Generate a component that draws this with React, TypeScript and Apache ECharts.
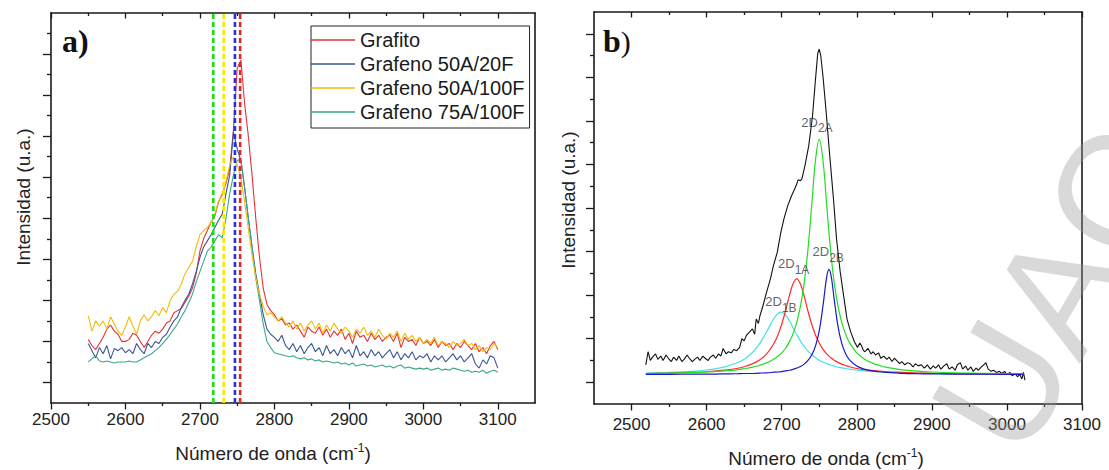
import React, { useEffect, useRef } from "react";
import * as echarts from "echarts";

// ---------------- Panel a) data ----------------
const WAVENUMBER_A = [
  2550, 2555, 2560, 2565, 2570, 2575, 2580, 2585, 2590, 2595,
  2600, 2605, 2610, 2615, 2620, 2625, 2630, 2635, 2640, 2645,
  2650, 2655, 2660, 2665, 2670, 2675, 2680, 2685, 2690, 2695,
  2700, 2705, 2710, 2715, 2720, 2725, 2730, 2735, 2740, 2745,
  2750, 2755, 2760, 2765, 2770, 2775, 2780, 2785, 2790, 2795,
  2800, 2805, 2810, 2815, 2820, 2825, 2830, 2835, 2840, 2845,
  2850, 2855, 2860, 2865, 2870, 2875, 2880, 2885, 2890, 2895,
  2900, 2905, 2910, 2915, 2920, 2925, 2930, 2935, 2940, 2945,
  2950, 2955, 2960, 2965, 2970, 2975, 2980, 2985, 2990, 2995,
  3000, 3005, 3010, 3015, 3020, 3025, 3030, 3035, 3040, 3045,
  3050, 3055, 3060, 3065, 3070, 3075, 3080, 3085, 3090, 3095,
  3100,
];

const GRAFITO = [
  3.1, 2.8, 2.6, 2.9, 3.2, 3.6, 3.8, 3.5, 3.35, 3.0,
  3.0, 3.1, 3.4, 3.3, 3.0, 2.7, 3.0, 3.3, 3.5, 3.4,
  3.6, 3.9, 4.0, 4.4, 4.5, 4.6, 4.9, 5.2, 5.6, 6.3,
  7.4, 8.0, 8.4, 8.8, 9.1, 9.8, 10.2, 10.7, 11.4, 13.3,
  16.3, 16.7, 14.6, 13.0, 11.1, 9.0, 7.1, 5.6, 4.8, 4.5,
  4.3, 4.0, 4.1, 3.8, 3.9, 3.6, 3.8, 3.5, 3.2, 3.7,
  3.5, 3.4, 3.7, 3.3, 3.6, 3.2, 3.5, 3.3, 3.6, 3.1,
  3.4, 2.9, 3.5, 3.2, 3.3, 3.0, 3.4, 3.1, 3.3, 3.0,
  3.2, 3.3, 3.0, 3.4, 2.7, 3.2, 3.0, 3.1, 2.8, 3.2,
  2.9, 3.0, 2.8, 3.1, 2.7, 3.0, 2.8, 2.9, 2.6, 2.9,
  2.7, 3.0, 2.8, 2.6, 2.9, 2.5, 2.7, 2.4, 2.8, 3.0,
  2.6,
];

const GRAFENO_50A_20F = [
  2.9, 2.55, 2.2, 2.7, 2.4, 2.8, 2.15, 2.65, 2.55, 2.7,
  2.45, 2.6, 2.4, 2.9, 2.6, 2.4, 2.9, 2.7, 3.0, 2.9,
  3.2, 3.35, 3.7, 4.0, 4.2, 4.65, 5.0, 5.3, 5.8, 6.4,
  7.1, 7.6, 7.9, 8.2, 8.55, 8.9, 9.2, 10.2, 11.1, 13.2,
  12.4, 11.8, 10.5, 9.0, 7.6, 6.3, 5.3, 4.3, 3.6, 3.35,
  3.2, 3.0, 3.3, 2.8, 2.6, 2.9, 2.5, 2.8, 2.4, 2.7,
  2.9, 2.5, 2.7, 2.3, 2.8, 2.4, 2.6, 2.3, 2.7, 2.4,
  2.6, 2.2, 2.8, 2.3, 2.5, 2.2, 2.6, 2.3, 2.5, 2.2,
  2.4, 2.6, 2.2, 2.5, 2.1, 2.4, 2.2, 2.5, 2.1, 2.3,
  2.2, 2.4, 2.0, 2.3, 2.1, 2.3, 2.0, 2.2, 2.4, 2.1,
  2.3, 2.0, 2.2, 2.4, 1.9, 1.7, 2.1, 1.9, 2.3, 2.2,
  1.7,
];

const GRAFENO_50A_100F = [
  4.25, 3.5, 4.0, 3.75, 4.0, 3.6, 4.2, 3.85, 3.5, 3.3,
  3.7, 4.2, 3.75, 3.35, 4.0, 4.3, 4.0, 4.2, 4.5, 4.25,
  4.65, 4.4, 5.0, 5.3, 5.45, 5.8, 6.3, 6.6, 6.9, 7.6,
  8.2, 8.4, 8.55, 8.8, 9.2, 9.85, 10.1, 10.8, 11.6, 12.0,
  11.6, 11.0, 9.8, 8.5, 7.2, 6.1, 5.3, 4.7, 4.3, 4.4,
  4.2, 4.0, 4.2, 3.9, 3.7, 4.0, 3.6, 3.9, 3.5, 3.8,
  4.0, 3.6, 3.9, 3.4, 3.8, 3.5, 3.9, 3.6, 3.4, 3.7,
  3.5, 3.2, 3.6, 3.4, 3.7, 3.3, 3.5, 3.2, 3.6, 3.3,
  3.1, 3.4, 3.2, 3.5, 3.0, 3.4, 3.1, 3.3, 3.0, 3.2,
  2.9, 3.1, 2.9, 3.2, 2.8, 3.0, 2.9, 2.7, 3.0, 2.8,
  2.9, 3.1, 2.8, 2.9, 2.6, 2.8, 2.5, 2.7, 2.6, 2.9,
  2.7,
];

const GRAFENO_75A_100F = [
  2.0, 2.15, 2.3, 2.05, 2.0, 2.05, 2.0, 1.95, 2.0, 2.0,
  2.0, 2.05, 2.0, 2.0, 2.1, 2.2, 2.3, 2.4, 2.55, 2.7,
  2.9, 3.1, 3.35, 3.6, 3.85, 4.2, 4.5, 4.9, 5.3, 5.9,
  6.4, 6.9, 7.4, 7.6, 7.9, 8.2, 8.05, 9.0, 10.2, 11.1,
  11.8, 11.9, 10.5, 9.0, 7.6, 6.1, 5.0, 3.85, 3.0, 2.7,
  2.45, 2.4, 2.35, 2.3, 2.25, 2.3, 2.2, 2.15, 2.2, 2.1,
  2.15, 2.05, 2.1, 2.0, 2.05, 2.0, 1.95, 2.0, 1.9, 1.95,
  1.85, 1.95, 1.8, 1.85, 1.9, 1.8, 1.85, 1.75, 1.8, 1.85,
  1.75, 1.8, 1.7, 1.8, 1.85, 1.7, 1.75, 1.7, 1.65, 1.7,
  1.65, 1.7, 1.6, 1.65, 1.7, 1.6, 1.65, 1.6, 1.7, 1.65,
  1.6, 1.55, 1.6, 1.5, 1.55, 1.5, 1.6, 1.45, 1.55, 1.6,
  1.5,
];

const SERIES_NAMES_A = ["Grafito", "Grafeno 50A/20F", "Grafeno 50A/100F", "Grafeno 75A/100F"];
// dashed peak markers (green, yellow, blue, red)
const PEAK_MARKERS_A = [2718, 2732, 2747, 2754];

const X_RANGE_A = [2500, 3150];
const Y_RANGE_A = [0, 19];
const X_LABELS_A = [2500, 2600, 2700, 2800, 2900, 3000, 3100];
const X_MINOR_A = [2550, 2650, 2750, 2850, 2950, 3050];
const Y_LONG_A = [1, 3, 5, 7, 9, 11, 13, 15, 17];
const Y_SHORT_A = [2, 4, 6, 8, 10, 12, 14, 16, 18];

// ---------------- Panel b) data ----------------
const SPECTRUM_B = [
  [2519, 1.8], [2522, 2.4], [2525, 2.0], [2528, 2.15], [2532, 2.3], [2535, 2.05], [2539, 2.2],
  [2542, 2.0], [2546, 2.25], [2549, 2.1], [2553, 1.95], [2556, 2.15], [2560, 2.0], [2563, 2.2],
  [2567, 1.95], [2570, 2.05], [2574, 2.25], [2577, 2.1], [2581, 1.95], [2584, 2.05], [2588, 2.15],
  [2591, 2.0], [2595, 2.2], [2598, 2.1], [2602, 2.0], [2605, 2.15], [2609, 2.25], [2612, 2.1],
  [2616, 2.3], [2619, 2.2], [2622, 2.55], [2626, 2.3], [2629, 2.4], [2633, 2.35], [2636, 2.5],
  [2640, 2.45], [2644, 2.6], [2647, 3.0], [2650, 2.9], [2653, 3.15], [2657, 3.3], [2661, 3.45],
  [2664, 3.2], [2666, 3.9], [2669, 3.7], [2671, 4.05], [2675, 4.5], [2680, 5.15], [2685, 5.75],
  [2689, 6.35], [2694, 6.95], [2699, 7.9], [2703, 8.5], [2708, 9.1], [2713, 9.55], [2717, 9.85],
  [2720, 10.1], [2722, 10.3], [2725, 10.25], [2727, 10.35], [2731, 10.95], [2736, 11.85],
  [2741, 13.2], [2745, 14.9], [2748, 16.1], [2750, 16.3], [2752, 16.0], [2755, 15.05],
  [2759, 13.5], [2764, 11.4], [2769, 9.4], [2773, 7.6], [2778, 6.05], [2783, 4.85], [2787, 3.9],
  [2792, 3.3], [2797, 2.85], [2801, 2.6], [2804, 2.8], [2806, 2.7], [2809, 2.45], [2811, 2.4],
  [2815, 2.55], [2819, 2.3], [2822, 2.4], [2825, 2.25], [2829, 2.35], [2832, 2.1], [2836, 2.2],
  [2840, 2.05], [2843, 2.15], [2847, 1.95], [2850, 2.1], [2853, 2.0], [2857, 1.85], [2860, 1.95],
  [2864, 1.8], [2868, 1.9], [2871, 1.85], [2875, 1.7], [2878, 1.85], [2882, 1.75], [2886, 1.8],
  [2890, 1.65], [2894, 1.8], [2898, 1.6], [2902, 1.75], [2905, 1.65], [2909, 1.8], [2912, 1.6],
  [2916, 1.75], [2920, 1.85], [2923, 1.6], [2927, 1.7], [2931, 1.55], [2934, 1.8], [2938, 1.9],
  [2941, 1.6], [2945, 1.75], [2948, 1.55], [2952, 1.7], [2955, 1.5], [2959, 1.65], [2962, 1.55],
  [2966, 1.7], [2969, 1.8], [2972, 1.9], [2975, 1.6], [2979, 1.5], [2982, 1.55], [2986, 1.45],
  [2990, 1.5], [2993, 1.4], [2997, 1.5], [3000, 1.35], [3004, 1.45], [3007, 1.3], [3011, 1.4],
  [3014, 1.25], [3017, 1.35], [3020, 1.15], [3022, 1.45], [3024, 1.1],
];

const FIT_X = [
  2519, 2550, 2580, 2600, 2620, 2640, 2650, 2660, 2670, 2680,
  2690, 2695, 2700, 2705, 2710, 2715, 2720, 2725, 2730, 2735,
  2740, 2745, 2750, 2755, 2760, 2763, 2766, 2770, 2775, 2780,
  2785, 2790, 2800, 2810, 2820, 2830, 2840, 2860, 2880, 2900,
  2930, 2960, 3000, 3022,
];
const FIT_2D1B = [
  1.42, 1.45, 1.5, 1.56, 1.67, 1.88, 2.06, 2.33, 2.74, 3.32,
  3.95, 4.16, 4.22, 4.09, 3.84, 3.51, 3.19, 2.89, 2.64, 2.43,
  2.26, 2.13, 2.01, 1.92, 1.85, 1.81, 1.78, 1.74, 1.69, 1.66,
  1.63, 1.6, 1.56, 1.52, 1.5, 1.48, 1.46, 1.43, 1.42, 1.4,
  1.39, 1.38, 1.37, 1.37,
];
const FIT_2D1A = [
  1.4, 1.42, 1.45, 1.48, 1.54, 1.63, 1.71, 1.83, 2.01, 2.3,
  2.8, 3.17, 3.66, 4.26, 4.94, 5.51, 5.75, 5.51, 4.94, 4.26,
  3.66, 3.17, 2.8, 2.51, 2.3, 2.2, 2.11, 2.01, 1.91, 1.83,
  1.77, 1.71, 1.63, 1.58, 1.54, 1.51, 1.48, 1.45, 1.42, 1.41,
  1.39, 1.38, 1.37, 1.37,
];
const FIT_2D2A = [
  1.4, 1.42, 1.45, 1.47, 1.51, 1.57, 1.62, 1.68, 1.77, 1.89,
  2.07, 2.19, 2.35, 2.56, 2.84, 3.22, 3.74, 4.49, 5.56, 7.1,
  9.12, 11.19, 12.15, 11.19, 9.12, 7.86, 6.75, 5.56, 4.49, 3.74,
  3.22, 2.84, 2.35, 2.07, 1.89, 1.77, 1.68, 1.57, 1.51, 1.47,
  1.43, 1.41, 1.39, 1.39,
];
const FIT_2D2B = [
  1.36, 1.36, 1.37, 1.37, 1.38, 1.39, 1.4, 1.4, 1.42, 1.43,
  1.46, 1.47, 1.49, 1.52, 1.55, 1.59, 1.65, 1.72, 1.83, 2.0,
  2.25, 2.66, 3.36, 4.51, 5.85, 6.18, 5.85, 4.79, 3.56, 2.78,
  2.32, 2.04, 1.74, 1.6, 1.52, 1.48, 1.45, 1.41, 1.39, 1.38,
  1.37, 1.37, 1.36, 1.36,
];

const FIT_LABEL_SUBS = ["1B", "1A", "2A", "2B"];
const FIT_LABEL_X = [2699, 2716, 2747, 2762];
const FIT_LABEL_Y = [4.55, 6.3, 12.8, 6.85];

const X_RANGE_B = [2450, 3100];
const Y_RANGE_B = [0, 18];
const X_LABELS_B = [2500, 2600, 2700, 2800, 2900, 3000, 3100];
const X_MINOR_B = [2550, 2650, 2750, 2850, 2950, 3050];
const Y_LONG_B = [1, 3, 5, 7, 9, 11, 13, 15, 17];
const Y_SHORT_B = [2, 4, 6, 8, 10, 12, 14, 16];

// ---------------- styles ----------------
const FONT = '"Liberation Sans", Arial, Helvetica, sans-serif';
const SERIF = '"Liberation Serif", "Times New Roman", serif';
const INK = "#1a1a1a";
const COLORS_A = ["#e3323b", "#3b5597", "#f2bd0a", "#3aa78c"];
const MARKER_COLORS_A = ["#1fdc1f", "#f8e800", "#2433d8", "#e8262a"];
const FIT_COLORS = ["#3fe3e3", "#ff2a2a", "#22dd22", "#1a1acc"];

function xAxes(grid: number, range: number[], labels: number[], minor: number[], labelMargin: number) {
  const base = {
    type: "value" as const,
    gridIndex: grid,
    min: range[0],
    max: range[1],
    splitLine: { show: false },
    minorSplitLine: { show: false },
  };
  const tickStyle = { color: INK, width: 1.3 };
  return [
    {
      ...base,
      position: "bottom",
      axisLine: { show: true, onZero: false, lineStyle: { color: INK, width: 1.6 } },
      axisTick: { show: true, customValues: minor, length: 3, lineStyle: tickStyle },
      axisLabel: {
        show: true,
        customValues: labels,
        margin: labelMargin,
        fontSize: 17,
        fontFamily: FONT,
        color: "#222",
        formatter: (v: number) => String(Math.round(v)),
      },
    },
    {
      ...base,
      position: "bottom",
      axisLine: { show: false, onZero: false },
      axisTick: { show: true, customValues: labels, length: 6.5, lineStyle: tickStyle },
      axisLabel: { show: false },
    },
    {
      ...base,
      position: "top",
      axisLine: { show: true, onZero: false, lineStyle: { color: INK, width: 1.6 } },
      axisTick: { show: true, inside: true, customValues: minor, length: 3, lineStyle: tickStyle },
      axisLabel: { show: false },
    },
    {
      ...base,
      position: "top",
      axisLine: { show: false, onZero: false },
      axisTick: { show: true, inside: true, customValues: labels, length: 5.5, lineStyle: tickStyle },
      axisLabel: { show: false },
    },
  ];
}

function yAxes(grid: number, range: number[], long: number[], short: number[]) {
  const base = {
    type: "value" as const,
    gridIndex: grid,
    min: range[0],
    max: range[1],
    splitLine: { show: false },
    axisLabel: { show: false },
  };
  const tickStyle = { color: INK, width: 1.3 };
  return [
    {
      ...base,
      position: "left",
      axisLine: { show: true, onZero: false, lineStyle: { color: INK, width: 1.6 } },
      axisTick: { show: true, customValues: short, length: 4, lineStyle: tickStyle },
    },
    {
      ...base,
      position: "left",
      axisLine: { show: false, onZero: false },
      axisTick: { show: true, customValues: long, length: 8, lineStyle: tickStyle },
    },
    {
      ...base,
      position: "right",
      axisLine: { show: true, onZero: false, lineStyle: { color: INK, width: 1.6 } },
      axisTick: { show: false },
    },
  ];
}

function buildOption() {
  const seriesValuesA = [GRAFITO, GRAFENO_50A_20F, GRAFENO_50A_100F, GRAFENO_75A_100F];
  const drawOrder = [0, 1, 3, 2];

  const lineSeriesA = drawOrder.map((i) => ({
    type: "line",
    name: SERIES_NAMES_A[i],
    xAxisIndex: 0,
    yAxisIndex: 0,
    data: WAVENUMBER_A.map((x, k) => [x, seriesValuesA[i][k]]),
    symbol: "none",
    lineStyle: { color: COLORS_A[i], width: 1.1 },
    itemStyle: { color: COLORS_A[i] },
    z: 2,
  }));

  const markerSeriesA = PEAK_MARKERS_A.map((x, i) => ({
    type: "line",
    name: "marker" + i,
    xAxisIndex: 0,
    yAxisIndex: 0,
    data: [
      [x, Y_RANGE_A[0]],
      [x, Y_RANGE_A[1]],
    ],
    symbol: "none",
    silent: true,
    lineStyle: { color: MARKER_COLORS_A[i], width: 2.6, type: [5, 3] },
    z: 4,
  }));

  const spectrumB = {
    type: "line",
    name: "Espectro",
    xAxisIndex: 4,
    yAxisIndex: 3,
    data: SPECTRUM_B,
    symbol: "none",
    lineStyle: { color: "#111", width: 1.1 },
    z: 2,
  };

  const fits = [FIT_2D1B, FIT_2D1A, FIT_2D2A, FIT_2D2B].map((vals, i) => ({
    type: "line",
    name: "fit" + i,
    xAxisIndex: 4,
    yAxisIndex: 3,
    data: FIT_X.map((x, k) => [x, vals[k]]),
    symbol: "none",
    smooth: 0.35,
    lineStyle: { color: FIT_COLORS[i], width: 1.2 },
    z: 3,
  }));

  const fitLabels = {
    type: "scatter",
    name: "labels",
    xAxisIndex: 4,
    yAxisIndex: 3,
    data: FIT_LABEL_X.map((x, i) => [x, FIT_LABEL_Y[i], FIT_LABEL_SUBS[i]]),
    symbolSize: 1,
    itemStyle: { color: "rgba(0,0,0,0)" },
    silent: true,
    z: 6,
    label: {
      show: true,
      position: "inside",
      formatter: (p: any) => "{a|2D}{s|" + p.data[2] + "}",
      rich: {
        a: { fontSize: 13, fontFamily: FONT, color: "#3a3a3a", lineHeight: 13, padding: [0, 0, 6, 0] },
        s: { fontSize: 12, fontFamily: FONT, color: "#3a3a3a", lineHeight: 12, padding: [6, 0, 0, 0] },
      },
    },
  };

  const titleRich = {
    t: { fontSize: 19, fontFamily: FONT, fill: "#222", lineHeight: 22 },
    s: { fontSize: 12, fontFamily: FONT, fill: "#222", lineHeight: 22, verticalAlign: "top" },
  };

  const graphic = [
    {
      type: "text",
      x: 62,
      y: 25,
      silent: true,
      style: { text: "a)", fontSize: 32, fontWeight: "bold", fontFamily: SERIF, fill: "#111" },
    },
    {
      type: "text",
      x: 603,
      y: 25,
      silent: true,
      style: {
        text: "{b|b}{p|)}",
        rich: {
          b: { fontSize: 32, fontWeight: "bold", fontFamily: SERIF, fill: "#111" },
          p: { fontSize: 30, fontFamily: SERIF, fill: "#111" },
        },
      },
    },
    {
      type: "text",
      x: 23,
      y: 197,
      rotation: Math.PI / 2,
      silent: true,
      style: {
        text: "Intensidad (u.a.)",
        fontSize: 19,
        fontFamily: FONT,
        fill: "#222",
        align: "center",
        verticalAlign: "middle",
      },
    },
    {
      type: "text",
      x: 568,
      y: 200,
      rotation: Math.PI / 2,
      silent: true,
      style: {
        text: "Intensidad (u.a.)",
        fontSize: 19,
        fontFamily: FONT,
        fill: "#222",
        align: "center",
        verticalAlign: "middle",
      },
    },
    {
      type: "text",
      x: 273,
      y: 453,
      silent: true,
      style: {
        text: "{t|Número de onda (cm}{s|-1}{t|)}",
        rich: titleRich,
        align: "center",
        verticalAlign: "middle",
      },
    },
    {
      type: "text",
      x: 826,
      y: 458,
      silent: true,
      style: {
        text: "{t|Número de onda (cm}{s|-1}{t|)}",
        rich: titleRich,
        align: "center",
        verticalAlign: "middle",
      },
    },
    {
      type: "text",
      x: 1058,
      y: 290,
      rotation: (60 * Math.PI) / 180,
      silent: true,
      z: 100,
      style: {
        text: "UAC",
        fontSize: 160,
        fontFamily: FONT,
        fill: "rgba(150,150,150,0.36)",
        align: "center",
        verticalAlign: "middle",
      },
    },
  ];

  return {
    animation: false,
    backgroundColor: "#ffffff",
    textStyle: { fontFamily: FONT },
    grid: [
      { left: 51, top: 13, right: 574, bottom: 67 },
      { left: 594, top: 12, right: 27, bottom: 66 },
    ],
    xAxis: [
      ...xAxes(0, X_RANGE_A, X_LABELS_A, X_MINOR_A, 8),
      ...xAxes(1, X_RANGE_B, X_LABELS_B, X_MINOR_B, 12),
    ],
    yAxis: [...yAxes(0, Y_RANGE_A, Y_LONG_A, Y_SHORT_A), ...yAxes(1, Y_RANGE_B, Y_LONG_B, Y_SHORT_B)],
    legend: {
      data: SERIES_NAMES_A,
      orient: "vertical",
      left: 311,
      top: 26,
      icon: "rect",
      itemWidth: 44,
      itemHeight: 1.5,
      itemGap: 4,
      padding: [4, 5, 6, 0],
      borderColor: "#222",
      borderWidth: 1,
      backgroundColor: "#fff",
      selectedMode: false,
      textStyle: { fontSize: 20, fontFamily: FONT, color: "#1a1a1a", lineHeight: 20 },
    },
    series: [...lineSeriesA, ...markerSeriesA, spectrumB, ...fits, fitLabels],
    graphic,
  };
}

export default function App() {
  const ref = useRef<HTMLDivElement>(null);
  useEffect(() => {
    if (!ref.current) return;
    const chart = echarts.init(ref.current, null, { renderer: "svg" });
    chart.setOption(buildOption() as any);
    return () => chart.dispose();
  }, []);
  return (
    <div
      ref={ref}
      style={{ position: "fixed", left: 0, top: 0, width: 1109, height: 470, background: "#fff" }}
    />
  );
}
